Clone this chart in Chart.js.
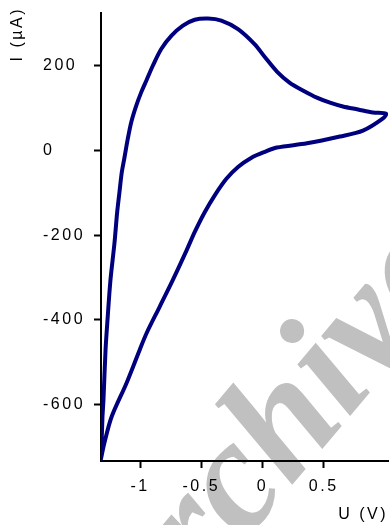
<!DOCTYPE html>
<html>
<head>
<meta charset="utf-8">
<script src="https://cdn.jsdelivr.net/npm/chart.js@4"></script>
<style>
  html, body { margin: 0; padding: 0; background: #fff; }
  #wrap { width: 390px; height: 525px; position: relative; }
</style>
</head>
<body>
<div id="wrap"><canvas id="cv"></canvas></div>
<script>
// cyclic voltammogram (U in V, I in µA)
// forward scan from -1.32 V up to 1.0 V, then back down
const scanU = [
    -1.323, -1.315, -1.307, -1.299, -1.282, -1.266, -1.242, -1.209, -1.187,
    -1.168, -1.149, -1.127, -1.100, -1.072, -1.031, -0.990, -0.949, -0.895, -0.827,
    -0.745, -0.650, -0.554, -0.445, -0.336, -0.200, -0.063, 0.019, 0.120, 0.223, 0.330,
    0.444, 0.551, 0.657, 0.780, 0.902, 1.009,
    0.984, 0.820, 0.632, 0.363, 0.117, 0.019, -0.090, -0.200, -0.295, -0.390,
    -0.472, -0.554, -0.620, -0.734, -0.841, -0.947, -1.004, -1.111, -1.233, -1.291,
    -1.323
];
const scanI = [
    -734, -696, -630, -590, -472, -401, -307, -219, -146,
    -98, -51, -16, 28, 67, 106, 138, 165, 201, 240,
    271, 295, 309, 312, 307, 287, 251, 221, 186, 160, 142,
    125, 113, 104, 97, 90, 87,
    76, 47, 33, 17, 7, -3, -17, -39, -67, -106,
    -146, -193, -236, -307, -370, -432, -472, -550, -630, -691,
    -734
];
const xTicks = [-1, -0.5, 0, 0.5];
const yTicks = [-600, -400, -200, 0, 200];
const xTitle = "U (V)";
const yTitle = "I (µA)";

const font = { family: "'Liberation Sans', Arial, sans-serif", size: 16 };
const spacing = "2.5px";

const points = scanU.map((u, i) => ({ x: u, y: scanI[i] }));

// canvas letter spacing gets reset on resize, so set it before each pass
const spacingPlugin = {
    id: "spacing",
    beforeLayout(chart) { chart.ctx.letterSpacing = spacing; },
    beforeDraw(chart) { chart.ctx.letterSpacing = spacing; },
};

const watermark = {
    id: "watermark",
    beforeDraw(chart) {
        const ctx = chart.ctx;
        ctx.save();
        ctx.letterSpacing = "0px";
        ctx.fillStyle = "#c0c0c0";
        ctx.font = "italic bold 160px 'Liberation Serif', serif";
        ctx.translate(136, 671);
        ctx.rotate(-50 * Math.PI / 180);
        ctx.fillText("Archive", 0, 0);
        ctx.restore();
    },
};

const yTitlePlugin = {
    id: "yTitle",
    afterDraw(chart) {
        const ctx = chart.ctx;
        ctx.save();
        ctx.letterSpacing = spacing;
        ctx.fillStyle = "#000";
        ctx.font = `${font.size}px ${font.family}`;
        ctx.translate(18, 7);
        ctx.rotate(-Math.PI / 2);
        ctx.textAlign = "right";
        ctx.textBaseline = "middle";
        ctx.fillText(yTitle, 0, 0);
        ctx.restore();
    },
};

new Chart(document.getElementById("cv"), {
    type: "scatter",
    data: {
        datasets: [{
            data: points,
            showLine: true,
            borderColor: "#00007f",
            borderWidth: 4,
            pointRadius: 0,
            tension: 0.3,
            fill: false,
        }],
    },
    options: {
        responsive: true,
        maintainAspectRatio: false,
        animation: false,
        layout: { padding: { left: 43, right: 2, top: 12, bottom: 0 } },
        plugins: {
            legend: { display: false },
            tooltip: { enabled: false },
        },
        scales: {
            x: {
                type: "linear",
                min: -1.319,
                max: 1.025,
                afterBuildTicks: (scale) => { scale.ticks = xTicks.map(v => ({ value: v })); },
                afterFit: (scale) => { scale.height = 64; },
                grid: {
                    drawOnChartArea: false,
                    drawTicks: true,
                    tickLength: 7,
                    tickWidth: 2,
                    tickColor: "#000",
                },
                border: { display: true, color: "#000", width: 2 },
                ticks: {
                    color: "#000",
                    font: font,
                    padding: 9,
                    maxRotation: 0,
                    callback: (v) => String(v),
                },
                title: {
                    display: true,
                    text: xTitle,
                    align: "end",
                    color: "#000",
                    font: font,
                    padding: { top: 0, bottom: 1 },
                },
            },
            y: {
                type: "linear",
                min: -734,
                max: 326,
                afterBuildTicks: (scale) => { scale.ticks = yTicks.map(v => ({ value: v })); },
                afterFit: (scale) => { scale.width = 58; },
                grid: {
                    drawOnChartArea: false,
                    drawTicks: true,
                    tickLength: 7,
                    tickWidth: 2,
                    tickColor: "#000",
                },
                border: { display: true, color: "#000", width: 2 },
                ticks: {
                    color: "#000",
                    font: font,
                    crossAlign: "far",
                    callback: (v) => String(v),
                },
            },
        },
    },
    plugins: [spacingPlugin, watermark, yTitlePlugin],
});
</script>
</body>
</html>
